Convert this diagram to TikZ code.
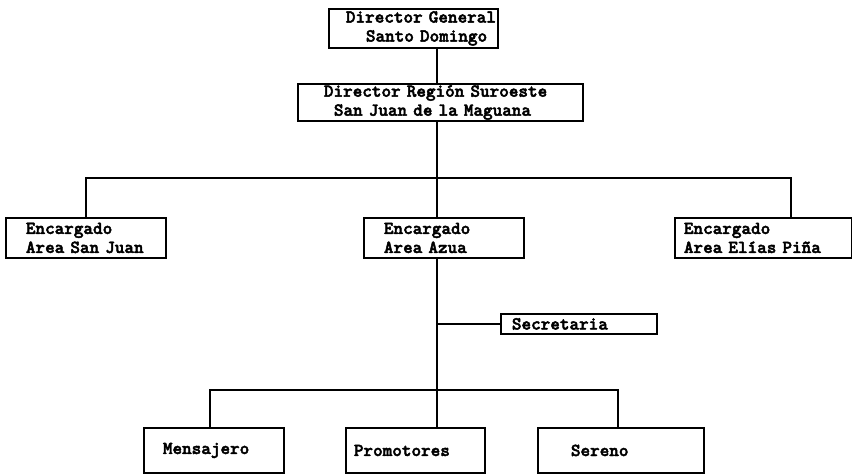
\documentclass[tikz,border=0pt]{standalone}
\usepackage{fontspec}
\usepackage{tikz}
\newfontfamily\orgfont{lmmonolt10-bold}[Extension=.otf, FakeBold=2.5]
\tikzstyle{orgbox} = [rectangle, draw, inner sep=0pt, align=left, anchor=north west, font=\orgfont\fontsize{13}{13.5}\selectfont]
\tikzset{every picture/.style={line width=1.3pt}}

\begin{document}
\begin{tikzpicture}[x=0.025cm, y=-0.025cm]
\useasboundingbox (0,0) rectangle (852,474);
\node[orgbox, text width=4.225cm, minimum height=0.975cm] (gen) at (328,8) {\hspace*{0.425cm}Director General\\\hspace*{0.925cm}Santo Domingo};
\node[orgbox, text width=7.125cm, minimum height=0.925cm] (reg) at (297,83) {\hspace*{0.65cm}Director Región Suroeste\\\hspace*{0.9cm}San Juan de la Maguana};
\node[orgbox, text width=4cm, minimum height=1cm] (sj) at (5,217) {\hspace*{0.5cm}Encargado\\\hspace*{0.5cm}Area San Juan};
\node[orgbox, text width=4cm, minimum height=1cm] (az) at (363,217) {\hspace*{0.5cm}Encargado\\\hspace*{0.5cm}Area Azua};
\node[orgbox, text width=4.425cm, minimum height=1cm] (ep) at (674,217) {\hspace*{0.225cm}Encargado\\\hspace*{0.225cm}Area Elías Piña};
\node[orgbox, text width=3.9cm, minimum height=0.5cm] (sec) at (500,313) {\hspace*{0.275cm}Secretaria};
\node[orgbox, text width=3.5cm, minimum height=1.125cm] (men) at (143,427) {\hspace*{0.475cm}Mensajero};
\node[orgbox, text width=3.475cm, minimum height=1.125cm] (pro) at (345,427) {\hspace*{0.2cm}Promotores};
\node[orgbox, text width=4.15cm, minimum height=1.125cm] (ser) at (537,427) {\hspace*{0.825cm}Sereno};
\coordinate (trunk) at (437,0);
\coordinate (busl) at (86,178);
\coordinate (busr) at (791,178);
\coordinate (lowl) at (210,390);
\coordinate (lowr) at (618,390);
\draw (gen.south -| trunk) -- (reg.north -| trunk);
\draw (reg.south -| trunk) -- (trunk |- busl);
\draw (busl |- sj.north) -- (busl) -- (busr) -- (busr |- ep.north);
\draw (trunk |- busl) -- (trunk |- az.north);
\draw (az.south -| trunk) -- (trunk |- lowl) -- (trunk |- pro.north);
\draw (trunk |- sec.west) -- (sec.west);
\draw (lowl |- men.north) -- (lowl) -- (lowr) -- (lowr |- ser.north);
\end{tikzpicture}
\end{document}
